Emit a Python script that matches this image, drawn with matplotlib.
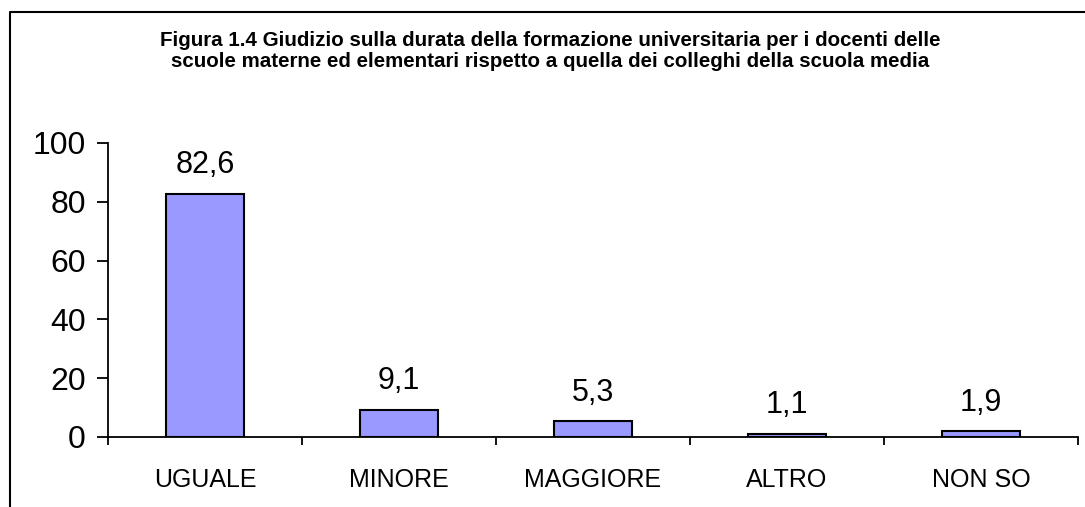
import matplotlib.pyplot as plt
from matplotlib.lines import Line2D

categories = ["UGUALE", "MINORE", "MAGGIORE", "ALTRO", "NON SO"]
values = [82.6, 9.1, 5.3, 1.1, 1.9]
yticks = [0, 20, 40, 60, 80, 100]
title = ("Figura 1.4 Giudizio sulla durata della formazione universitaria per i docenti delle\n"
         "scuole materne ed elementari rispetto a quella dei colleghi della scuola media")

plt.rcParams['font.family'] = ['Liberation Sans', 'DejaVu Sans']

fig = plt.figure(figsize=(10.85, 5.07), dpi=100)
ax = fig.add_axes([108 / 1085, 1 - 437 / 507, (1078 - 108) / 1085, (437 - 143) / 507])

x = range(len(categories))
ax.bar(x, values, width=0.4, color="#9999FF", edgecolor="black", linewidth=1.5, zorder=3)

# value labels with decimal comma
for i, v in enumerate(values):
    ax.annotate(f"{v:.1f}".replace(".", ","), (i, v), xytext=(0, 10),
                textcoords="offset points", ha="center", va="bottom", fontsize=22)

ax.set_xlim(-0.5, len(categories) - 0.5)
ax.set_ylim(0, 100)
ax.set_yticks(yticks)
ax.tick_params(axis="y", direction="out", length=8, width=1.3, labelsize=23, pad=8)

# ticks at category boundaries, labels at centres
ax.set_xticks([i - 0.5 for i in range(len(categories) + 1)])
ax.set_xticklabels([])
ax.tick_params(axis="x", which="major", direction="out", length=6, width=1.3)
ax.set_xticks(list(x), minor=True)
ax.set_xticklabels(categories, minor=True)
ax.tick_params(axis="x", which="minor", length=0, labelsize=18, pad=22)

for s in ["top", "right"]:
    ax.spines[s].set_visible(False)
for s in ["left", "bottom"]:
    ax.spines[s].set_linewidth(1.3)

fig.text(550 / 1085, 1 - 51 / 507, title, ha="center", va="center",
         fontsize=14.8, fontweight="bold", linespacing=1.1)

# outer chart frame (cropped at right and bottom)
fig.add_artist(Line2D([10 / 1085, 10 / 1085, 1], [0, 1 - 12 / 507, 1 - 12 / 507],
                      color="black", linewidth=1.5, transform=fig.transFigure))

fig.savefig("out.png", dpi=100)
